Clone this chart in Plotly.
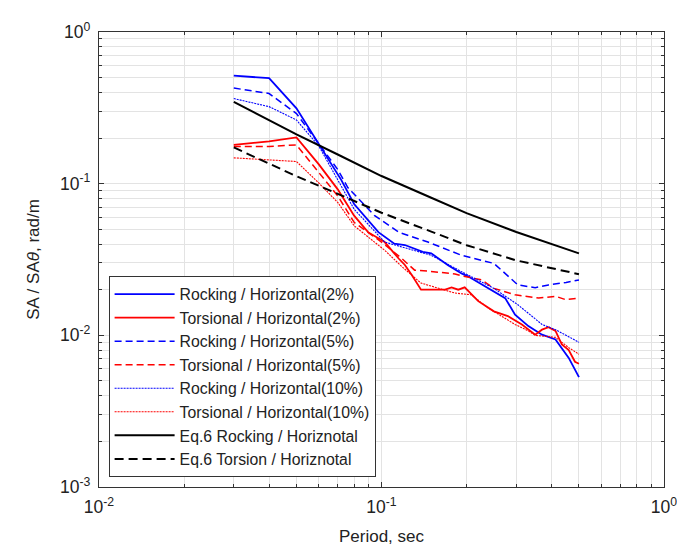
import plotly.graph_objects as go

# ---- data ----
T_R2 = [0.03, 0.04, 0.05, 0.06, 0.072, 0.08, 0.0975, 0.111, 0.121, 0.14, 0.15, 0.172,
        0.192, 0.203, 0.239, 0.274, 0.297, 0.331, 0.37, 0.413, 0.46, 0.5]
V_R2 = [0.516, 0.496, 0.314, 0.183, 0.106, 0.0734, 0.0479, 0.0402, 0.0394, 0.0355, 0.0347,
        0.0290, 0.0256, 0.0244, 0.0204, 0.0176, 0.0137, 0.0115, 0.0101, 0.0094, 0.0071, 0.0053]

T_T2 = [0.03, 0.04, 0.05, 0.06, 0.07, 0.08, 0.0896, 0.1026, 0.115, 0.121, 0.128, 0.138,
        0.168, 0.177, 0.187, 0.197, 0.22, 0.25, 0.28, 0.314, 0.35, 0.37, 0.39, 0.413,
        0.435, 0.46, 0.484, 0.5]
V_T2 = [0.180, 0.190, 0.202, 0.134, 0.0917, 0.0615, 0.0479, 0.0412, 0.0321, 0.0291, 0.0250,
        0.0200, 0.0200, 0.0207, 0.0200, 0.0207, 0.0168, 0.0144, 0.0134, 0.0118, 0.0101,
        0.0109, 0.0113, 0.0107, 0.0087, 0.0080, 0.0067, 0.0065]

T_R5 = [0.03, 0.04, 0.05, 0.06, 0.07, 0.076, 0.0946, 0.115, 0.146, 0.192, 0.25, 0.304,
        0.35, 0.39, 0.45, 0.5]
V_R5 = [0.427, 0.393, 0.290, 0.183, 0.124, 0.0942, 0.0615, 0.0479, 0.0412, 0.0337, 0.0298,
        0.0215, 0.0206, 0.0215, 0.0223, 0.0232]

T_T5 = [0.03, 0.04, 0.05, 0.06, 0.07, 0.08, 0.1, 0.118, 0.131, 0.146, 0.182, 0.192, 0.226,
        0.25, 0.297, 0.36, 0.413, 0.448, 0.5]
V_T5 = [0.176, 0.176, 0.180, 0.118, 0.0831, 0.0556, 0.0412, 0.0321, 0.0269, 0.0265, 0.0254,
        0.0247, 0.0232, 0.0204, 0.0185, 0.0176, 0.0181, 0.0172, 0.0176]

T_R10 = [0.03, 0.04, 0.05, 0.06, 0.07, 0.08, 0.1026, 0.115, 0.15, 0.192, 0.25, 0.304, 0.37,
         0.413, 0.5]
V_R10 = [0.364, 0.322, 0.263, 0.177, 0.106, 0.0679, 0.0412, 0.0388, 0.0337, 0.0263, 0.0204,
         0.0159, 0.0118, 0.0109, 0.0090]

T_T10 = [0.03, 0.04, 0.05, 0.06, 0.07, 0.08, 0.1026, 0.118, 0.138, 0.182, 0.208, 0.239,
         0.297, 0.331, 0.35, 0.413, 0.46, 0.5]
V_T10 = [0.148, 0.144, 0.140, 0.101, 0.0752, 0.0528, 0.0364, 0.0284, 0.0221, 0.0190, 0.0185,
         0.0151, 0.0118, 0.0107, 0.0100, 0.0097, 0.0083, 0.0075]

T_EQ = [0.03, 0.04, 0.05, 0.07, 0.1, 0.15, 0.2, 0.3, 0.4, 0.5]
V_EQ_ROCK = [0.3456, 0.2619, 0.2113, 0.1557, 0.1123, 0.0808, 0.0640, 0.0480, 0.0400, 0.0347]
V_EQ_TORS = [0.1733, 0.1362, 0.1120, 0.0857, 0.0643, 0.0483, 0.0393, 0.0312, 0.0278, 0.0253]

NAMES = ["Rocking / Horizontal(2%)", "Torsional / Horizontal(2%)",
         "Rocking / Horizontal(5%)", "Torsional / Horizontal(5%)",
         "Rocking / Horizontal(10%)", "Torsional / Horizontal(10%)",
         "Eq.6 Rocking / Horiznotal", "Eq.6 Torsion / Horiznotal"]

DECADES_X = [-2, -1, 0]
DECADES_Y = [-3, -2, -1, 0]

# ---- styles ----
BLUE = "#0000ff"
RED = "#ff0000"
series = [
    (T_R2, V_R2, dict(color=BLUE, width=1.8, dash="solid")),
    (T_T2, V_T2, dict(color=RED, width=1.8, dash="solid")),
    (T_R5, V_R5, dict(color=BLUE, width=1.5, dash="7px,4px")),
    (T_T5, V_T5, dict(color=RED, width=1.5, dash="7px,4px")),
    (T_R10, V_R10, dict(color=BLUE, width=1.1, dash="2px,1px")),
    (T_T10, V_T10, dict(color=RED, width=1.1, dash="2px,1px")),
    (T_EQ, V_EQ_ROCK, dict(color="black", width=2, dash="solid")),
    (T_EQ, V_EQ_TORS, dict(color="black", width=2, dash="9px,5px")),
]

fig = go.Figure()
for (t, v, ln), name in zip(series, NAMES):
    fig.add_trace(go.Scatter(x=t, y=v, mode="lines", name=name, line=ln))


def decade_ticks(decs):
    vals = [10.0 ** d for d in decs]
    text = ["10<sup>%d</sup>" % d for d in decs]
    minor = [m * 10.0 ** d for d in decs[:-1] for m in range(2, 10)]
    return vals, text, minor


xv, xt, xm = decade_ticks(DECADES_X)
yv, yt, ym = decade_ticks(DECADES_Y)

FONT = "Liberation Sans, Arial, sans-serif"
GRID = "#e3e3e3"
TXT = "#222222"

axis_common = dict(
    type="log", showline=True, linecolor="#333333", linewidth=1.2, mirror="allticks",
    ticks="inside", ticklen=5, tickcolor="#333333", tickwidth=1,
    showgrid=True, gridcolor=GRID, gridwidth=1, zeroline=False,
    tickfont=dict(family=FONT, size=17.5, color=TXT),
    ticklabelstandoff=4,
)

fig.update_xaxes(
    range=[-2, 0], tickmode="array", tickvals=xv, ticktext=xt,
    minor=dict(tickmode="array", tickvals=xm, ticks="inside", ticklen=3,
               tickcolor="#333333", showgrid=True, gridcolor=GRID, gridwidth=1),
    title=dict(text="Period, sec", font=dict(family=FONT, size=17, color=TXT), standoff=14),
    **axis_common,
)
fig.update_yaxes(
    range=[-3, 0], tickmode="array", tickvals=yv, ticktext=yt,
    minor=dict(tickmode="array", tickvals=ym, ticks="inside", ticklen=3,
               tickcolor="#333333", showgrid=True, gridcolor=GRID, gridwidth=1),
    title=dict(text="SA / SA<i>θ</i>, rad/m", font=dict(family=FONT, size=17, color=TXT), standoff=16),
    **axis_common,
)

fig.update_layout(
    width=685, height=547,
    margin=dict(l=91, r=29, t=21, b=66),
    paper_bgcolor="white", plot_bgcolor="white",
    font=dict(family=FONT, size=15, color=TXT),
    showlegend=True,
    legend=dict(
        x=0.017, y=0.463, xanchor="left", yanchor="top",
        bgcolor="white", bordercolor="#333333", borderwidth=1,
        font=dict(family=FONT, size=15.8, color=TXT),
        itemwidth=60, tracegroupgap=0,
    ),
)

fig.write_html("out.html")
